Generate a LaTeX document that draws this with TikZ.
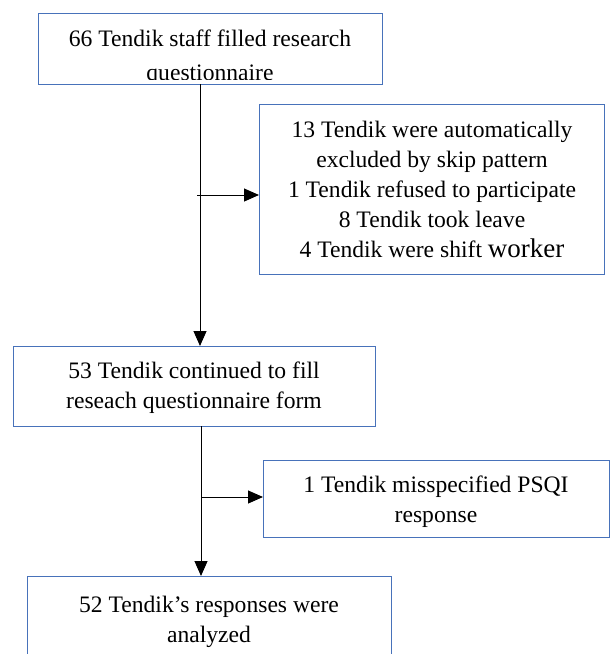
\documentclass[tikz,border=0pt]{standalone}
\usepackage{fontspec}
\setmainfont{Liberation Serif}
\usetikzlibrary{arrows.meta}
\definecolor{boxblue}{RGB}{72,114,186}
\begin{document}
\begin{tikzpicture}[x=1pt,y=-1pt,
  box/.style={draw=boxblue,line width=0.9pt,inner sep=0pt,outer sep=0pt},
  txt/.style={font=\fontsize{23.6}{30}\selectfont,align=center,inner sep=0pt,anchor=base},
  flow/.style={line width=1pt,-{Triangle[length=15pt,width=13pt]}}]
\clip (0,0) rectangle (610,654);
% boxes
\node[box,minimum width=344pt,minimum height=71pt] (b1) at (210,48.5) {};
\node[box,minimum width=345pt,minimum height=170pt] (b2) at (431.5,189) {};
\node[box,minimum width=362pt,minimum height=80pt] (b3) at (194,386) {};
\node[box,minimum width=346pt,minimum height=77pt] (b4) at (436,498.5) {};
\node[box,minimum width=364pt,minimum height=90pt] (b5) at (209,621) {};
% texts (anchor base = baseline of the last line)
\begin{scope}
  \clip (39,14) rectangle (381,79.5);
  \node[txt] (t1) at (210,80) {66 Tendik staff filled research\\[4pt]questionnaire};
\end{scope}
\node[txt] (t2) at (432,257) {13 Tendik were automatically\\excluded by skip pattern\\1 Tendik refused to participate\\8 Tendik took leave\\4 Tendik were shift {\fontsize{27}{30}\selectfont worker}};
\node[txt] (t3) at (194,408) {53 Tendik continued to fill\\reseach questionnaire form};
\node[txt] (t4) at (436,522) {1 Tendik misspecified PSQI\\response};
\node[txt] (t5) at (209,642) {52 Tendik’s responses were\\analyzed};
% connectors
\coordinate (j1) at (200,195);
\coordinate (j2) at (201,497);
\draw[flow] (b1.south -| j1) -- (b3.north -| j1);
\draw[flow] ([xshift=-3pt]j1) -- (b2.west |- j1);
\draw[flow] (b3.south -| j2) -- (b5.north -| j2);
\draw[flow] (j2) -- (b4.west |- j2);
\end{tikzpicture}
\end{document}
